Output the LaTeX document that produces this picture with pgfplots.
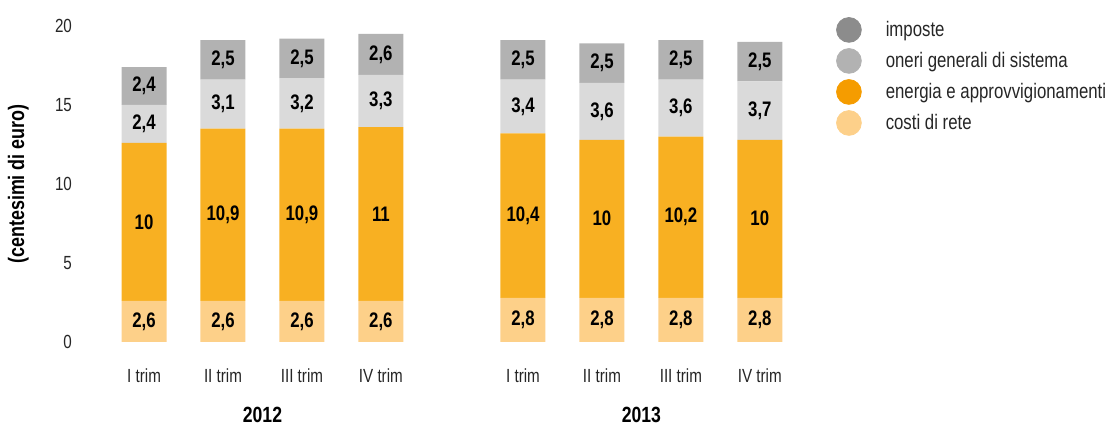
\documentclass[border=0pt]{standalone}
\usepackage{fontspec}
\setmainfont{Liberation Sans}[FakeStretch=0.8]
\usepackage{pgfplots}
\usepackage{pgfplotstable}
\pgfplotsset{compat=1.18}

\definecolor{impC}{HTML}{B2B2B2}
\definecolor{oneC}{HTML}{DADADA}
\definecolor{eneC}{HTML}{F8B022}
\definecolor{cosC}{HTML}{FDD089}
\definecolor{impL}{HTML}{8C8C8C}
\definecolor{oneL}{HTML}{B2B2B2}
\definecolor{eneL}{HTML}{F59C00}
\definecolor{cosL}{HTML}{FDD08A}
\definecolor{txt}{HTML}{262626}

% quarters, values in centesimi di euro
\pgfplotstableread{
x   costi energia oneri imposte
0   2.6   10      2.4   2.4
1   2.6   10.9    3.1   2.5
2   2.6   10.9    3.2   2.5
3   2.6   11      3.3   2.6
4.8 2.8   10.4    3.4   2.5
5.8 2.8   10      3.6   2.5
6.8 2.8   10.2    3.6   2.5
7.8 2.8   10      3.7   2.5
}\data

% label positions: middle of each segment (x, y, value)
\pgfplotstableread{
x   y     v
0   1.3   2.6
1   1.3   2.6
2   1.3   2.6
3   1.3   2.6
4.8 1.4   2.8
5.8 1.4   2.8
6.8 1.4   2.8
7.8 1.4   2.8
0   7.6   10
1   8.05  10.9
2   8.05  10.9
3   8.1   11
4.8 8.0   10.4
5.8 7.8   10
6.8 7.9   10.2
7.8 7.8   10
0   13.8  2.4
1   15.05 3.1
2   15.1  3.2
3   15.25 3.3
4.8 14.9  3.4
5.8 14.6  3.6
6.8 14.8  3.6
7.8 14.65 3.7
0   16.2  2.4
1   17.85 2.5
2   17.95 2.5
3   18.2  2.6
4.8 17.85 2.5
5.8 17.65 2.5
6.8 17.85 2.5
7.8 17.75 2.5
}\labels

\pgfplotsset{
  base/.style={
    at={(36.5pt,42.5pt)}, anchor=south west,
    scale only axis,
    width=375pt, height=158pt,
    xmin=-0.9, xmax=8.6,
    ymin=0, ymax=20,
    axis line style={draw=none},
    major tick length=0pt,
    clip=false,
  }
}

\begin{document}
\begin{tikzpicture}[font=\fontsize{9.5}{11}\selectfont]
\useasboundingbox (0,0) rectangle (556pt,213.5pt);
\begin{axis}[
    base,
    ytick={0,5,10,15,20},
    xtick={0,1,2,3,4.8,5.8,6.8,7.8},
    xticklabels={I trim,II trim,III trim,IV trim,I trim,II trim,III trim,IV trim},
    xticklabel style={yshift=-10pt, text=txt},
    yticklabel style={text=txt, xshift=3pt},
    /pgf/number format/assume math mode=true,
    ybar stacked,
    bar width=0.57,
    ylabel={(centesimi di euro)},
    ylabel style={at={(rel axis cs:-0.073,0.5)}, anchor=center, font=\bfseries\fontsize{11.2}{13}\selectfont},
    legend style={at={(rel axis cs:1.009,1.043)}, anchor=north west, draw=none, fill=none,
        row sep=2.4pt, font=\fontsize{10.5}{12}\selectfont, text=txt,
        /tikz/every odd column/.style={column sep=10pt}},
    legend cell align=left,
]
\addplot[fill=cosC, draw=none, forget plot] table[x=x, y=costi] {\data};
\addplot[fill=eneC, draw=none, forget plot] table[x=x, y=energia] {\data};
\addplot[fill=oneC, draw=none, forget plot] table[x=x, y=oneri] {\data};
\addplot[fill=impC, draw=none, forget plot] table[x=x, y=imposte] {\data};

\addlegendimage{legend image code/.code={\fill[impL] (5pt,0) circle (6.2pt);}}
\addlegendentry{imposte}
\addlegendimage{legend image code/.code={\fill[oneL] (5pt,0) circle (6.2pt);}}
\addlegendentry{oneri generali di sistema}
\addlegendimage{legend image code/.code={\fill[eneL] (5pt,0) circle (6.2pt);}}
\addlegendentry{energia e approvvigionamenti}
\addlegendimage{legend image code/.code={\fill[cosL] (5pt,0) circle (6.2pt);}}
\addlegendentry{costi di rete}

\node[font=\bfseries\fontsize{11}{13}\selectfont] at (axis cs:1.5,-4.6) {2012};
\node[font=\bfseries\fontsize{11}{13}\selectfont] at (axis cs:6.3,-4.6) {2013};
\end{axis}
\begin{axis}[
    base,
    xtick=\empty, ytick=\empty,
]
\addplot[only marks, mark=none, point meta=explicit,
    nodes near coords={\pgfmathprintnumber[use comma,fixed,precision=1,assume math mode=true]{\pgfplotspointmeta}},
    nodes near coords style={font=\bfseries\fontsize{10.5}{12}\selectfont, text=black, anchor=center}]
    table[x=x, y=y, meta=v] {\labels};
\end{axis}
\end{tikzpicture}
\end{document}
